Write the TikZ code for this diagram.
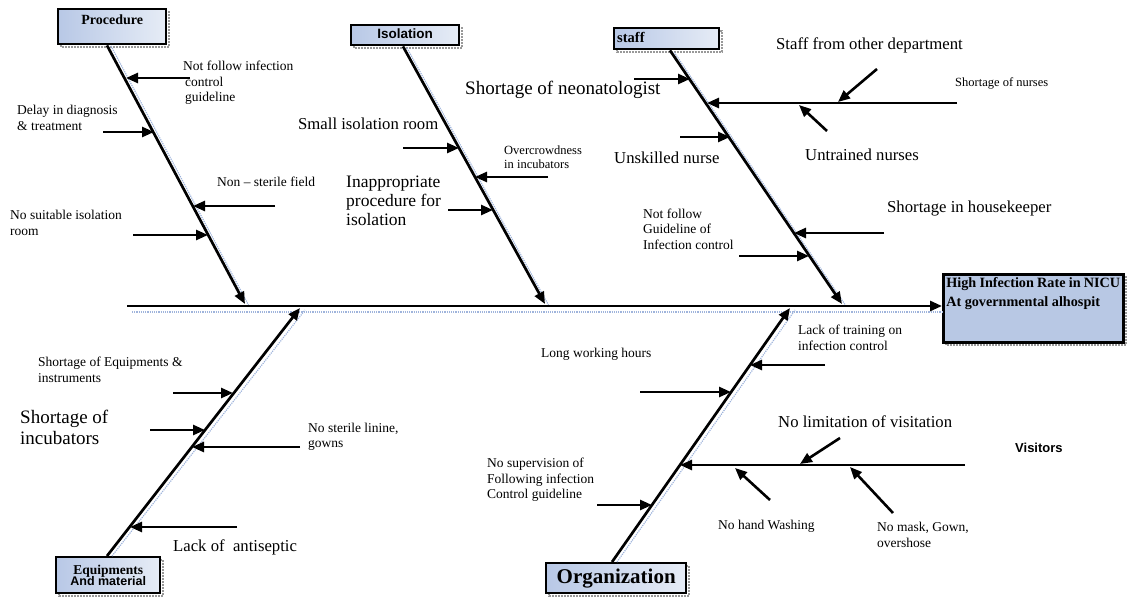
\documentclass[tikz,border=0pt]{standalone}
\usepackage{fontspec}
\setmainfont{Liberation Serif}
\setsansfont{Liberation Sans}
\usetikzlibrary{arrows.meta}
\definecolor{boxL}{HTML}{B8C8E6}
\definecolor{boxR}{HTML}{E6ECF6}
\definecolor{effC}{HTML}{B8C8E4}
\definecolor{shd}{HTML}{9FB4DC}
\newcommand\myfs{\fontsize{13.5}{15.5}\selectfont}
\newcommand\myfm{\fontsize{16.7}{19}\selectfont}
\newcommand\myfl{\fontsize{19}{21}\selectfont}
\begin{document}
\begin{tikzpicture}[x=1pt,y=-1pt,
  bone/.style={line width=2.7pt,-{Triangle[length=12pt,width=10pt]}},
  sub/.style={line width=2.6pt,-{Triangle[length=12pt,width=10pt]}},
  bshadow/.style={shd,densely dotted,line width=1.2pt},
  cat/.style={draw,line width=2.4pt,left color=boxL,right color=boxR,inner sep=0pt,anchor=north west},
  boxshadow/.style={draw=gray!80,densely dotted,line width=2pt},
  lab/.style={inner sep=0pt,align=left,anchor=west,font=\myfs}]
\useasboundingbox (0,0) rectangle (1128,597);

% ---------- box shadows
\draw[boxshadow] (61,12) rectangle (169,47);
\draw[boxshadow] (354,28) rectangle (462,48);
\draw[boxshadow] (617,31) rectangle (722,52);
\draw[boxshadow] (59,560) rectangle (163,596);
\draw[boxshadow] (549,566) rectangle (689,596);
\draw[boxshadow] (946,277) rectangle (1126,345);

% ---------- category boxes
\node[cat,minimum width=108pt,minimum height=35pt,text height=15pt,text depth=20pt,
  font=\bfseries\fontsize{14}{16}\selectfont] (proc) at (57,8) {Procedure};
\node[cat,minimum width=108pt,minimum height=20pt,text height=13.5pt,text depth=6.5pt,
  font=\sffamily\bfseries\fontsize{13.5}{15}\selectfont] (iso) at (350,24) {Isolation};
\node[cat,minimum width=105pt,minimum height=21pt,text width=99pt,inner xsep=3pt,align=left,
  text height=14pt,text depth=7pt,font=\bfseries\fontsize{14.5}{16}\selectfont] (staff) at (613,27) {staff};
\node[cat,minimum width=104pt,minimum height=36pt,align=center] (equ) at (55,556)
  {\fontsize{13.5}{14}\selectfont\bfseries Equipments\\[-1pt]\fontsize{12.5}{14}\selectfont\sffamily\bfseries And material};
\node[cat,minimum width=140pt,minimum height=30pt,font=\bfseries\fontsize{21}{24}\selectfont] (org) at (545,562) {Organization};
\node[draw,line width=2.5pt,fill=effC,anchor=north west,inner sep=3pt,minimum width=180pt,minimum height=68pt] (eff) at (942,273)
  {\parbox[t][62pt][t]{174pt}{\bfseries\fontsize{14.2}{19}\selectfont High Infection Rate in NICU\\At governmental alhospit}};

% ---------- spine and bones (dotted shadows first)
\draw[bshadow] (132,312) -- (942,312);
\draw[bshadow] (111,46) -- (249,306);
\draw[bshadow] (407,48) -- (549,306);
\draw[bshadow] (674,52) -- (846,306);
\draw[bshadow] (112,556) -- (305,310);
\draw[bshadow] (617,562) -- (795,310);

\coordinate (spS) at (127,306);
\draw[bone] (spS) -- (eff.west |- 0,306);

\coordinate (pE) at (245,304);
\coordinate (iE) at (545,304);
\coordinate (sE) at (842,304);
\coordinate (eE) at (300,308);
\coordinate (oE) at (790,308);
\draw[bone] (proc.south -| 107,0) -- (pE);
\draw[bone] (iso.south -| 403,0) -- (iE);
\draw[bone] (staff.south -| 670,0) -- (sE);
\draw[bone] (equ.north -| 107,0) -- (eE);
\draw[bone] (org.north -| 612,0) -- (oE);

% ---------- Procedure causes
\coordinate (a1t) at (190,78);  \coordinate (a1h) at (126,78);
\coordinate (a2t) at (103,132); \coordinate (a2h) at (154,132);
\coordinate (a3t) at (275,206); \coordinate (a3h) at (193,206);
\coordinate (a4t) at (133,235); \coordinate (a4h) at (208,235);
\draw[sub] (a1t) -- (a1h);
\draw[sub] (a2t) -- (a2h);
\draw[sub] (a3t) -- (a3h);
\draw[sub] (a4t) -- (a4h);
\node[lab] (la1) at (183,83) {Not follow infection\\\hspace*{2pt}control\\\hspace*{2pt}guideline};
\node[lab] (la2) at (17,118) {Delay in diagnosis\\\& treatment};
\node[lab] (la3) at (217,182) {Non -- sterile field};
\node[lab] (la4) at (10,223) {No suitable isolation\\room};

% ---------- Isolation causes
\coordinate (b1t) at (403,148); \coordinate (b1h) at (459,148);
\coordinate (b2t) at (548,177); \coordinate (b2h) at (475,177);
\coordinate (b3t) at (448,210); \coordinate (b3h) at (493,210);
\draw[sub] (b1t) -- (b1h);
\draw[sub] (b2t) -- (b2h);
\draw[sub] (b3t) -- (b3h);
\node[lab,font=\myfm] (lb1) at (298,124) {Small isolation room};
\node[lab,font=\fontsize{12.5}{14}\selectfont] (lb2) at (504,157) {Overcrowdness\\in incubators};
\node[lab,font=\fontsize{17.5}{19}\selectfont] (lb3) at (346,201) {Inappropriate\\procedure for\\isolation};

% ---------- Staff causes
\coordinate (c1t) at (634,79);  \coordinate (c1h) at (690,79);
\coordinate (c2t) at (957,103); \coordinate (c2h) at (707,103);
\coordinate (c3t) at (877,69);  \coordinate (c3h) at (838,102);
\coordinate (c4t) at (827,131); \coordinate (c4h) at (799,105);
\coordinate (c5t) at (680,137); \coordinate (c5h) at (730,137);
\coordinate (c6t) at (884,233); \coordinate (c6h) at (794,233);
\coordinate (c7t) at (739,256); \coordinate (c7h) at (809,256);
\draw[sub] (c1t) -- (c1h);
\draw[sub] (c2t) -- (c2h);
\draw[sub] (c3t) -- (c3h);
\draw[sub] (c4t) -- (c4h);
\draw[sub] (c5t) -- (c5h);
\draw[sub] (c6t) -- (c6h);
\draw[sub] (c7t) -- (c7h);
\node[lab,font=\myfl] (lc1) at (465,90) {Shortage of neonatologist};
\node[lab,font=\myfm] (lc3) at (776,45) {Staff from other department};
\node[lab,font=\fontsize{12.5}{14}\selectfont] (lc2) at (955,83) {Shortage of nurses};
\node[lab,font=\myfm] (lc4) at (805,155) {Untrained nurses};
\node[lab,font=\myfm] (lc5) at (614,158) {Unskilled nurse};
\node[lab,font=\myfm] (lc6) at (887,209) {Shortage in housekeeper};
\node[lab] (lc7) at (643,229) {Not follow\\Guideline of\\Infection control};

% ---------- Equipment causes
\coordinate (d1t) at (173,393); \coordinate (d1h) at (233,393);
\coordinate (d2t) at (150,430); \coordinate (d2h) at (205,430);
\coordinate (d3t) at (300,447); \coordinate (d3h) at (192,447);
\coordinate (d4t) at (237,527); \coordinate (d4h) at (130,527);
\draw[sub] (d1t) -- (d1h);
\draw[sub] (d2t) -- (d2h);
\draw[sub] (d3t) -- (d3h);
\draw[sub] (d4t) -- (d4h);
\node[lab] (ld1) at (38,370) {Shortage of Equipments \&\\instruments};
\node[lab,font=\myfl] (ld2) at (20,427) {Shortage of\\incubators};
\node[lab] (ld3) at (308,437) {No sterile linine,\\gowns};
\node[lab,font=\myfm] (ld4) at (173,547) {Lack of~ antiseptic};

% ---------- Organization causes
\coordinate (e1t) at (825,365); \coordinate (e1h) at (750,365);
\coordinate (e2t) at (640,392); \coordinate (e2h) at (731,392);
\coordinate (e3t) at (965,465); \coordinate (e3h) at (680,465);
\coordinate (e4t) at (840,438); \coordinate (e4h) at (800,464);
\coordinate (e5t) at (770,500); \coordinate (e5h) at (735,468);
\coordinate (e6t) at (893,513); \coordinate (e6h) at (850,467);
\coordinate (e7t) at (597,505); \coordinate (e7h) at (652,505);
\draw[sub] (e1t) -- (e1h);
\draw[sub] (e2t) -- (e2h);
\draw[sub] (e3t) -- (e3h);
\draw[sub] (e4t) -- (e4h);
\draw[sub] (e5t) -- (e5h);
\draw[sub] (e6t) -- (e6h);
\draw[sub] (e7t) -- (e7h);
\node[lab] (le1) at (798,338) {Lack of training on\\infection control};
\node[lab] (le2) at (541,354) {Long working hours};
\node[lab,font=\myfm] (le4) at (778,422) {No limitation of visitation};
\node[lab,font=\sffamily\bfseries\fontsize{13}{15}\selectfont] (le3) at (1015,448) {Visitors};
\node[lab] (le7) at (487,480) {No supervision of\\Following infection\\Control guideline};
\node[lab] (le5) at (718,526) {No hand Washing};
\node[lab] (le6) at (877,535) {No mask, Gown,\\overshose};
\end{tikzpicture}
\end{document}
